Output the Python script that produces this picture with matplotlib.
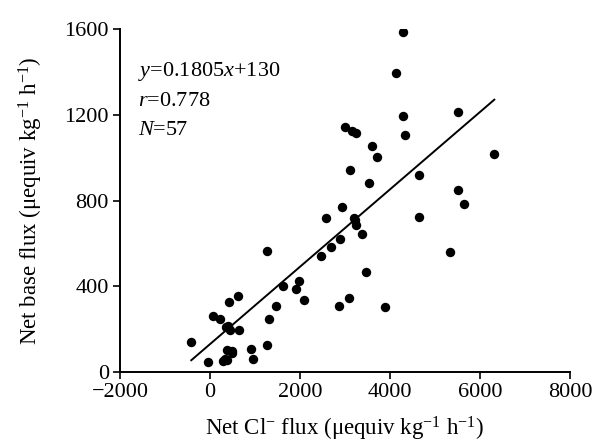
import matplotlib.pyplot as plt
import numpy as np

plt.rcParams['font.family'] = ['Liberation Serif', 'DejaVu Serif']
plt.rcParams['mathtext.fontset'] = 'custom'
plt.rcParams['mathtext.rm'] = 'Liberation Serif'
plt.rcParams['mathtext.it'] = 'Liberation Serif:italic'

# net Cl- flux vs net base flux
cl_flux = [4289, 4126, 4281, 4326, 3000, 3163, 3237, 3607, 3704, 3111,
           3541, 4652, 5504, 6318, 5519, 5644, 4652, 5333, 2926, 2585,
           3200, 3244, 3370, 2881, 2681, 2459, 1259, 3474, 1985, 1630,
           1904, 2081, 3089, 2867, 3896, 1467, 1311, 1274, 630, 422,
           59, 230, 356, 444, 652, -415, 911, 370, 496, 956,
           -37, 296, 385, 390, 330, 3220, 480]
base_flux = [1587, 1396, 1194, 1104, 1143, 1124, 1116, 1054, 1001, 941,
             883, 920, 1211, 1017, 847, 784, 721, 561, 771, 717,
             717, 686, 644, 619, 582, 543, 564, 468, 424, 401,
             387, 336, 345, 308, 302, 308, 246, 127, 353, 326,
             263, 247, 211, 196, 196, 138, 109, 103, 90, 59,
             47, 50, 55, 215, 60, 710, 100]

slope, intercept = 0.1805, 130
fit_x = [-415, 6318]

fig = plt.figure(figsize=(5.96, 4.45), dpi=100)
ax = fig.add_axes([0.2013, 0.164, 0.7551, 0.7708])

ax.scatter(cl_flux, base_flux, s=46, color='black', zorder=3, linewidths=0)
fx = np.array(fit_x)
ax.plot(fx, slope*fx+intercept, color='black', lw=1.4)

ax.set_xlim(-2000, 8000)
ax.set_ylim(0, 1600)
ax.set_xticks(range(-2000, 8001, 2000))
ax.set_xticklabels(['\u22122000', '0', '2000', '4000', '6000', '8000'])
ax.set_yticks(range(0, 1601, 400))
ax.spines['top'].set_visible(False)
ax.spines['right'].set_visible(False)
ax.spines['left'].set_linewidth(1.4)
ax.spines['bottom'].set_linewidth(1.4)
ax.tick_params(direction='out', length=5, width=1.2, labelsize=16, pad=3)

ax.set_xlabel('Net Cl$^{\u2212}$ flux (\u03bcequiv kg$^{\u22121}$ h$^{\u22121}$)', fontsize=16.5, labelpad=9)
ax.set_ylabel('Net base flux (\u03bcequiv kg$^{\u22121}$ h$^{\u22121}$)', fontsize=16.5, labelpad=14)

ax.text(0.04, 0.875, '$y$=0.1805$x$+130', transform=ax.transAxes, fontsize=16, va='center')
ax.text(0.04, 0.79, '$r$=0.778', transform=ax.transAxes, fontsize=16, va='center')
ax.text(0.04, 0.705, '$N$=57', transform=ax.transAxes, fontsize=16, va='center')

plt.savefig('out.png', dpi=100)
